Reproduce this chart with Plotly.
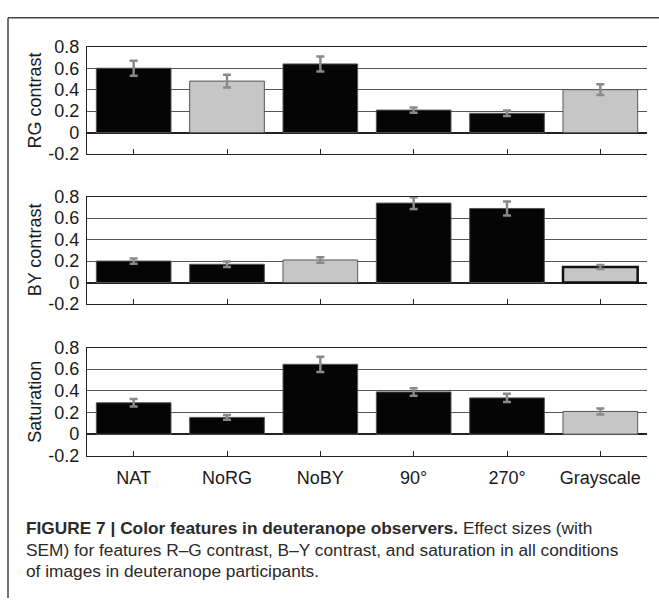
import plotly.graph_objects as go

# ---------------- data ----------------
categories = ["NAT", "NoRG", "NoBY", "90°", "270°", "Grayscale"]

rg_values = [0.60, 0.48, 0.64, 0.21, 0.18, 0.40]
rg_sem = [0.07, 0.06, 0.07, 0.025, 0.025, 0.05]

by_values = [0.20, 0.17, 0.21, 0.74, 0.69, 0.145]
by_sem = [0.025, 0.025, 0.025, 0.055, 0.065, 0.018]

sat_values = [0.29, 0.155, 0.645, 0.39, 0.335, 0.21]
sat_sem = [0.035, 0.022, 0.07, 0.035, 0.038, 0.028]

ytick_vals = [-0.2, 0, 0.2, 0.4, 0.6, 0.8]
ytick_text = ["-0.2", "0", "0.2", "0.4", "0.6", "0.8"]

panel_titles = ["RG contrast", "BY contrast", "Saturation"]

caption_lines = [
    "<b>FIGURE 7 | Color features in deuteranope observers.</b> Effect sizes (with",
    "SEM) for features R–G contrast, B–Y contrast, and saturation in all conditions",
    "of images in deuteranope participants.",
]

# ---------------- styles ----------------
BLACK = "#050505"
GRAY = "#c6c6c6"
rg_colors = [BLACK, GRAY, BLACK, BLACK, BLACK, GRAY]
by_colors = [BLACK, BLACK, GRAY, BLACK, BLACK, GRAY]
sat_colors = [BLACK, BLACK, BLACK, BLACK, BLACK, GRAY]
by_outline_w = [1, 1, 1, 1, 1, 2.5]
by_outline_c = ["#555", "#555", "#555", "#555", "#555", "#111"]

W, H = 659, 608


def py(y):
    return 1 - y / H


x_domain = [87 / W, 647 / W]
panels_px = [(38, 149), (193, 304), (349, 461)]
y_domains = [[py(b), py(t)] for (t, b) in panels_px]

fig = go.Figure()

series = [
    (rg_values, rg_sem, rg_colors, [1] * 6, ["#555"] * 6),
    (by_values, by_sem, by_colors, by_outline_w, by_outline_c),
    (sat_values, sat_sem, sat_colors, [1] * 6, ["#555"] * 6),
]

for i, (vals, sem, cols, lw, lc) in enumerate(series):
    ax = "" if i == 0 else str(i + 1)
    fig.add_trace(go.Bar(
        x=categories, y=vals,
        marker=dict(color=cols, line=dict(color=lc, width=lw)),
        error_y=dict(type="data", array=sem, visible=True,
                     color="#8a8a8a", thickness=2.5, width=4),
        xaxis="x" + ax, yaxis="y" + ax,
        showlegend=False, hoverinfo="skip",
    ))

layout = dict(
    width=W, height=H,
    margin=dict(l=0, r=0, t=0, b=0, pad=0),
    paper_bgcolor="white", plot_bgcolor="white",
    bargap=0.2,
    font=dict(family="Liberation Sans, Arial, sans-serif", color="#1a1a1a", size=18),
)

for i in range(3):
    ax = "" if i == 0 else str(i + 1)
    layout["xaxis" + ax] = dict(
        domain=x_domain, anchor="y" + ax,
        type="category", categoryorder="array", categoryarray=categories,
        range=[-0.5, 5.5],
        showline=True, linecolor="#222", linewidth=1.2, mirror=True,
        ticks="inside", ticklen=5, tickcolor="#222", tickwidth=1,
        showgrid=False,
        showticklabels=(i == 2), ticklabelstandoff=5,
        tickfont=dict(size=18, color="#1a1a1a"),
    )
    layout["yaxis" + ax] = dict(
        domain=y_domains[i], anchor="x" + ax,
        range=[-0.2, 0.8],
        tickvals=ytick_vals, ticktext=ytick_text,
        showline=True, linecolor="#222", linewidth=1.2, mirror=False,
        ticks="", showgrid=True, gridcolor="#555", gridwidth=1,
        zeroline=True, zerolinecolor="#222", zerolinewidth=2,
        tickfont=dict(size=18, color="#1a1a1a"), ticklabelstandoff=3,
    )

fig.update_layout(**layout)

# y-axis titles
for i, title in enumerate(panel_titles):
    t, b = panels_px[i]
    fig.add_annotation(
        x=35 / W, y=py((t + b) / 2), xref="paper", yref="paper",
        text=title, textangle=-90, showarrow=False,
        xanchor="center", yanchor="middle",
        font=dict(size=18, color="#1a1a1a", family="Liberation Sans, Arial, sans-serif"),
    )

# caption
caption_y = [536, 558, 580]
for k, line in enumerate(caption_lines):
    fig.add_annotation(
        x=24 / W, y=py(caption_y[k]), xref="paper", yref="paper",
        text=line, showarrow=False, xanchor="left", yanchor="middle", align="left",
        font=dict(size=17.3, color="#2a2a2a", family="Liberation Sans, Arial, sans-serif"),
    )

# frame lines (left and top)
fig.add_shape(type="line", xref="paper", yref="paper",
              x0=8 / W, x1=8 / W, y0=0, y1=py(8), line=dict(color="#444", width=1.5))
fig.add_shape(type="line", xref="paper", yref="paper",
              x0=8 / W, x1=1, y0=py(8), y1=py(8), line=dict(color="#444", width=1.5))

fig.write_html("out.html")
